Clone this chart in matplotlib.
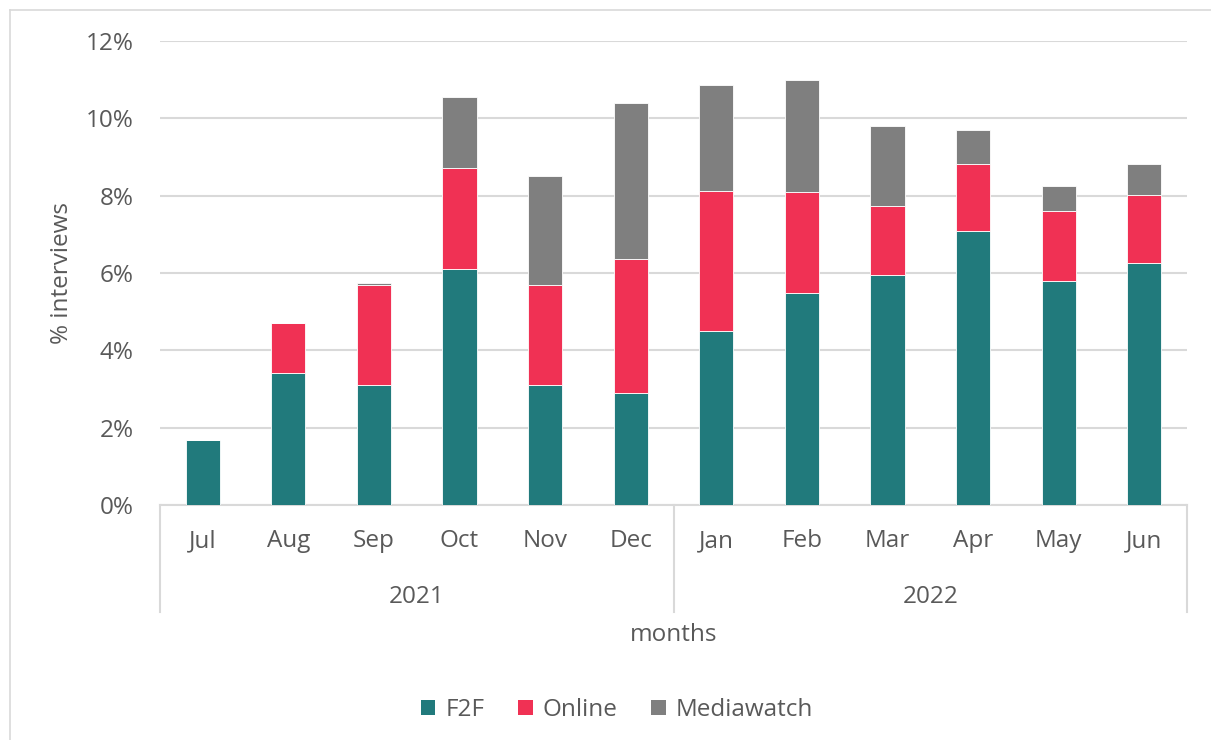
import matplotlib
matplotlib.use("Agg")
import matplotlib.pyplot as plt
from matplotlib.lines import Line2D
from matplotlib.patches import Patch
import matplotlib.transforms as mtransforms
import numpy as np

months = ["Jul", "Aug", "Sep", "Oct", "Nov", "Dec", "Jan", "Feb", "Mar", "Apr", "May", "Jun"]
years = ["2021", "2022"]
f2f = [1.68, 3.41, 3.10, 6.10, 3.10, 2.90, 4.50, 5.48, 5.95, 7.09, 5.79, 6.26]
online = [0.00, 1.30, 2.59, 2.61, 2.59, 3.46, 3.62, 2.61, 1.78, 1.73, 1.81, 1.76]
mediawatch = [0.00, 0.00, 0.05, 1.84, 2.82, 4.04, 2.74, 2.90, 2.07, 0.88, 0.65, 0.80]
series_names = ["F2F", "Online", "Mediawatch"]
colors = ["#217A7C", "#F03154", "#7F7F7F"]

plt.rcParams['font.family'] = ['Open Sans', 'DejaVu Sans']
txt = "#595959"
grid = "#D9D9D9"
FS = 17.5

W, H = 1211, 740
fig = plt.figure(figsize=(W / 100, H / 100), dpi=100)
L, R, T, B = 160, 1187, 41, 505
ax = fig.add_axes([L / W, 1 - B / H, (R - L) / W, (B - T) / H])

x = np.arange(len(months))
bottom = np.zeros(len(months))
for vals, c, name in zip([f2f, online, mediawatch], colors, series_names):
    v = np.array(vals) / 100
    ax.bar(x, v, width=0.4, bottom=bottom, color=c, edgecolor="white", linewidth=0.6, label=name, zorder=3)
    bottom += v

ax.set_xlim(-0.5, len(months) - 0.5)
ax.set_ylim(0, 0.12)
ticks = np.arange(0, 0.121, 0.02)
ax.set_yticks(ticks)
ax.set_yticklabels([f"{int(round(t * 100))}%" for t in ticks], fontsize=FS, color=txt)
ax.tick_params(axis="y", length=0, pad=19)
ax.set_xticks([])
ax.grid(axis="y", color=grid, linewidth=1.5, zorder=0)
for s in ["top", "right", "left"]:
    ax.spines[s].set_visible(False)
ax.spines["bottom"].set_color(grid)
ax.spines["bottom"].set_linewidth(1.5)

trans = mtransforms.blended_transform_factory(ax.transData, ax.transAxes)
axh = B - T
ylow = -(612 - B) / axh
for xv in [-0.5, 5.5, 11.5]:
    ax.add_line(Line2D([xv, xv], [0, ylow], transform=trans, color=grid, lw=1.5, clip_on=False))

for i, m in enumerate(months):
    ax.text(i, -(541 - B) / axh, m, transform=trans, ha="center", va="center", fontsize=FS, color=txt)
for j, yname in enumerate(years):
    ax.text(2.5 + 6 * j, -(597 - B) / axh, yname, transform=trans, ha="center", va="center", fontsize=FS, color=txt)

fig.text(674 / W, 1 - 635 / H, "months", ha="center", va="center", fontsize=FS, color=txt)
fig.text(62 / W, 1 - 273 / H, "% interviews", ha="center", va="center", rotation=90, fontsize=FS, color=txt)

handles = [Patch(facecolor=c, label=n) for c, n in zip(colors, series_names)]
fig.legend(handles=handles, loc="center", bbox_to_anchor=(617 / W, 1 - 710 / H), ncol=3, frameon=False,
           fontsize=FS, labelcolor=txt, handlelength=0.6, handleheight=0.6, handletextpad=0.4, columnspacing=1.4)

fig.add_artist(Line2D([10 / W, 10 / W], [0, 1 - 10 / H], transform=fig.transFigure, color=grid, lw=1.2))
fig.add_artist(Line2D([10 / W, 1], [1 - 10 / H, 1 - 10 / H], transform=fig.transFigure, color=grid, lw=1.2))

fig.savefig("out.png", dpi=100)
